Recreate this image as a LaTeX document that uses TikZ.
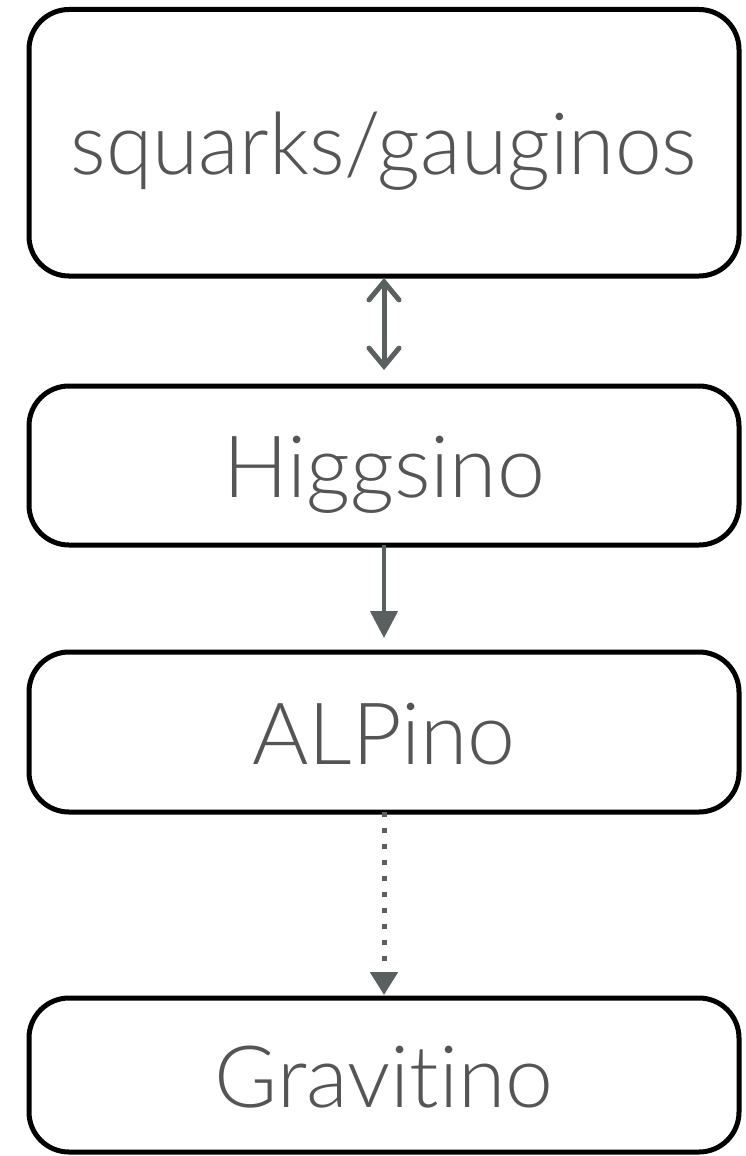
\documentclass[tikz,border=0pt]{standalone}
\usepackage{fontspec}
\setmainfont{Lato}[UprightFont=* Light, Ligatures=NoCommon]
\usetikzlibrary{arrows.meta}
\definecolor{labelgray}{HTML}{555555}
\definecolor{arrowgray}{HTML}{5A605F}
\tikzset{
  x=1pt, y=1pt,
  level/.style={draw=black, line width=5pt, rounded corners=40pt,
    minimum width=710pt, outer sep=0pt, inner sep=0pt,
    text=labelgray, font=\fontsize{86}{100}\selectfont,
    text height=64pt, text depth=0pt},
  link/.style={draw=arrowgray, line width=4.5pt},
  barbtip/.tip={Straight Barb[length=18pt,width=30pt,line cap=round]},
}
\begin{document}
\begin{tikzpicture}
\useasboundingbox (0,0) rectangle (746,-1156);
% stacked levels of the decay chain
\node[level, minimum height=266.5pt] (sq)  at (384,-142.75) {\scalebox{0.975}[1]{squarks/gauginos}};
\node[level, minimum height=159pt]   (hig) at (384,-465.5)  {Higgsino};
\node[level, minimum height=160pt]   (alp) at (384,-732)    {ALPino};
\node[level, minimum height=154pt]   (gra) at (384,-1075)   {Gravitino};
% connectors between levels
\coordinate (hig-in) at ([yshift=16pt]hig.north);
\coordinate (alp-in) at ([yshift=14pt]alp.north);
\coordinate (gra-in) at ([yshift=3pt]gra.north);
\draw[link, line width=5pt, line cap=round, barbtip-barbtip, shorten <=2pt]
  (sq.south) -- (hig-in);
\draw[link, -{Triangle[length=27pt,width=27pt]}] (hig.south) -- (alp-in);
\draw[link, line width=5pt, dash pattern=on 5pt off 11pt,
  -{Triangle[length=23pt,width=27pt]}] (alp.south) -- (gra-in);
\end{tikzpicture}
\end{document}
